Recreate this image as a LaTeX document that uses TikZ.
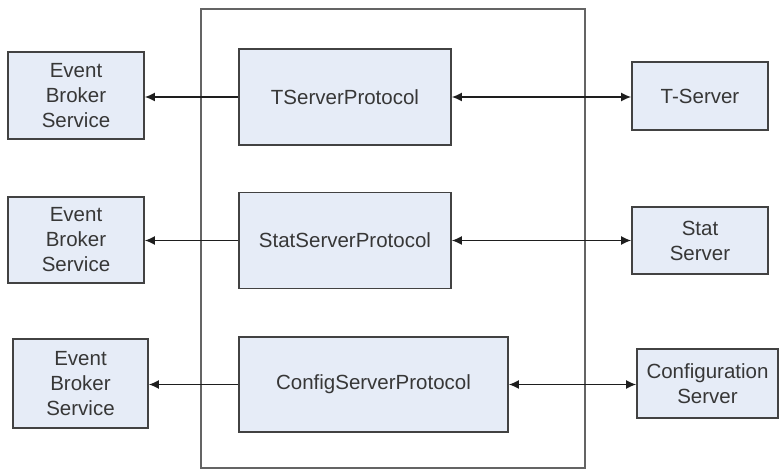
\documentclass[tikz,border=0pt]{standalone}
\usepackage{fontspec}
\setmainfont{Liberation Sans}
\usetikzlibrary{shapes, arrows.meta}

\definecolor{boxfill}{RGB}{230,236,247}
\definecolor{boxline}{RGB}{66,66,66}
\definecolor{framegray}{RGB}{100,100,100}
\definecolor{textgray}{RGB}{55,55,55}
\definecolor{arrowgray}{RGB}{30,30,30}

\begin{document}
\begin{tikzpicture}[x=1pt, y=-1pt,
        box/.style = {draw=boxline, fill=boxfill, line width=1.6pt, text=textgray,
            align=center, inner sep=0pt, font=\fontsize{20.5}{25}\selectfont},
        frame/.style = {draw=framegray, line width=1.6pt, minimum width=384pt, minimum height=459pt},
        link/.style = {draw=arrowgray, line width=1.6pt}]
                \useasboundingbox (0, 0) rectangle (780, 470);
                \node[frame] at (393, 238.5) (main) {};

                \node[box, minimum width=212pt, minimum height=96pt] at (345, 97) (tsp) {TServerProtocol};
                \node[box, minimum width=212pt, minimum height=96pt] at (345, 240.5) (ssp) {StatServerProtocol};
                \node[box, minimum width=269pt, minimum height=95pt] at (373.5, 384.5) (csp) {ConfigServerProtocol};

                \node[box, minimum width=136pt, minimum height=87pt] at (76, 95.5) (ebs1) {Event\\Broker\\Service};
                \node[box, minimum width=136pt, minimum height=86pt] at (76, 240) (ebs2) {Event\\Broker\\Service};
                \node[box, minimum width=135pt, minimum height=89pt] at (80.5, 383.5) (ebs3) {Event\\Broker\\Service};

                \node[box, minimum width=136pt, minimum height=68pt] at (700, 96) (ts) {T-Server};
                \node[box, minimum width=136pt, minimum height=67pt] at (700, 240.5) (ss) {Stat\\Server};
                \node[box, minimum width=141pt, minimum height=69pt] at (707.5, 383.5) (cs) {Configuration\\Server};

                \draw [link, -{Latex[length=10pt, width=9pt]}] (tsp.west) -- (tsp.west -| ebs1.east);
                \draw [link, -{Latex[length=10pt, width=9pt]}] (ssp.west) -- (ssp.west -| ebs2.east);
                \draw [link, -{Latex[length=10pt, width=9pt]}] (csp.west) -- (csp.west -| ebs3.east);

                \draw [link, {Latex[length=10pt, width=9pt]}-{Latex[length=10pt, width=9pt]}] (tsp.east) -- (tsp.east -| ts.west);
                \draw [link, {Latex[length=10pt, width=9pt]}-{Latex[length=10pt, width=9pt]}] (ssp.east) -- (ssp.east -| ss.west);
                \draw [link, {Latex[length=10pt, width=9pt]}-{Latex[length=10pt, width=9pt]}] (csp.east) -- (csp.east -| cs.west);
            \end{tikzpicture}
\end{document}
